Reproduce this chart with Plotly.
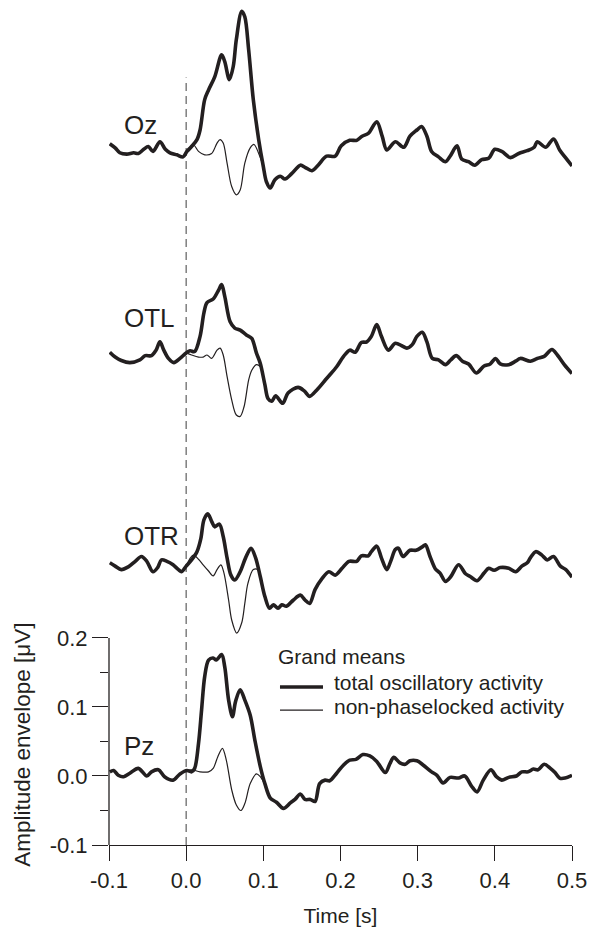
import plotly.graph_objects as go

# ---------------- data (values relative to each channel's own baseline, in µV) ----------------
channels = ["Oz", "OTL", "OTR", "Pz"]
offsets = {"Oz": 0.9, "OTL": 0.6, "OTR": 0.3, "Pz": 0.0}

oz_t = [-0.099, -0.092, -0.086, -0.077, -0.068, -0.062, -0.055, -0.049, -0.043, -0.034, -0.027, -0.021,
        -0.012, -0.004, 0.001, 0.007, 0.014, 0.018, 0.024, 0.029, 0.037, 0.046, 0.050, 0.056, 0.061,
        0.065, 0.072, 0.076, 0.081, 0.087, 0.094, 0.100, 0.104, 0.109, 0.115, 0.122, 0.128, 0.137,
        0.148, 0.154, 0.163, 0.171, 0.182, 0.193, 0.201, 0.212, 0.221, 0.228, 0.236, 0.247, 0.254,
        0.260, 0.271, 0.282, 0.290, 0.299, 0.305, 0.312, 0.318, 0.327, 0.336, 0.342, 0.351, 0.357,
        0.366, 0.374, 0.383, 0.392, 0.400, 0.409, 0.420, 0.431, 0.442, 0.451, 0.455, 0.466, 0.476,
        0.484, 0.490, 0.500]
oz_total = [0.016, 0.010, 0.003, 0.001, 0.003, 0.002, 0.008, 0.012, 0.005, 0.019, 0.008, 0.003,
            0.000, -0.003, 0.005, 0.012, 0.022, 0.036, 0.080, 0.094, 0.113, 0.145, 0.135, 0.109, 0.128,
            0.167, 0.208, 0.200, 0.152, 0.080, 0.022, -0.017, -0.039, -0.048, -0.036, -0.031, -0.035,
            -0.027, -0.015, -0.018, -0.023, -0.015, -0.002, -0.002, 0.013, 0.021, 0.021, 0.027, 0.031,
            0.048, 0.027, 0.007, 0.019, 0.011, 0.027, 0.036, 0.041, 0.027, 0.005, -0.003, -0.010,
            -0.002, 0.013, -0.006, -0.010, -0.015, -0.007, -0.005, 0.008, 0.005, -0.004, 0.002, 0.006,
            0.011, 0.019, 0.011, 0.023, 0.007, -0.002, -0.016]
oz_thin_t = [0.001, 0.009, 0.016, 0.024, 0.033, 0.040, 0.044, 0.048, 0.053, 0.059, 0.065, 0.070,
             0.076, 0.083, 0.088, 0.094, 0.100]
oz_thin = [0.005, 0.015, 0.005, 0.000, 0.002, 0.017, 0.022, 0.017, -0.012, -0.046, -0.058, -0.051,
           -0.012, 0.010, 0.015, 0.002, -0.017]

otl_t = [-0.099, -0.092, -0.084, -0.073, -0.060, -0.053, -0.045, -0.039, -0.034, -0.029, -0.023,
         -0.016, -0.008, 0.000, 0.005, 0.011, 0.018, 0.023, 0.027, 0.035, 0.042, 0.046, 0.050, 0.057,
         0.063, 0.070, 0.078, 0.085, 0.091, 0.096, 0.102, 0.106, 0.111, 0.116, 0.125, 0.132, 0.145,
         0.153, 0.160, 0.169, 0.182, 0.186, 0.195, 0.204, 0.212, 0.219, 0.227, 0.234, 0.240, 0.247,
         0.253, 0.262, 0.271, 0.280, 0.286, 0.293, 0.299, 0.306, 0.312, 0.319, 0.327, 0.336, 0.343,
         0.350, 0.358, 0.366, 0.376, 0.386, 0.394, 0.401, 0.407, 0.418, 0.427, 0.433, 0.446, 0.455,
         0.464, 0.474, 0.481, 0.490, 0.500]
otl_total = [0.014, 0.007, 0.002, -0.001, 0.003, 0.009, 0.009, 0.017, 0.029, 0.017, 0.005, -0.001,
             0.005, 0.013, 0.016, 0.015, 0.037, 0.071, 0.086, 0.091, 0.104, 0.112, 0.095, 0.058, 0.049,
             0.046, 0.039, 0.034, 0.013, -0.002, -0.033, -0.053, -0.057, -0.049, -0.060, -0.045,
             -0.037, -0.042, -0.050, -0.041, -0.024, -0.019, -0.007, 0.008, 0.017, 0.014, 0.028, 0.029,
             0.037, 0.054, 0.037, 0.017, 0.027, 0.023, 0.020, 0.025, 0.037, 0.043, 0.029, 0.005, 0.003,
             -0.004, 0.003, 0.009, 0.001, -0.003, -0.016, -0.006, -0.003, 0.005, -0.003, -0.004, 0.001,
             0.005, 0.001, 0.005, 0.008, 0.018, 0.010, -0.004, -0.017]
otl_thin_t = [0.000, 0.007, 0.016, 0.022, 0.027, 0.033, 0.040, 0.044, 0.048, 0.053, 0.059, 0.065,
              0.070, 0.075, 0.081, 0.085, 0.091, 0.096, 0.099]
otl_thin = [0.013, 0.010, 0.007, 0.007, 0.010, 0.005, 0.017, 0.020, 0.010, -0.021, -0.055, -0.077,
            -0.079, -0.065, -0.026, -0.012, -0.004, -0.007, -0.015]

otr_t = [-0.099, -0.092, -0.084, -0.075, -0.066, -0.058, -0.051, -0.043, -0.037, -0.032, -0.025,
         -0.017, -0.010, -0.006, 0.000, 0.007, 0.014, 0.019, 0.023, 0.028, 0.033, 0.037, 0.043, 0.048,
         0.053, 0.058, 0.063, 0.070, 0.077, 0.084, 0.090, 0.096, 0.102, 0.108, 0.113, 0.119, 0.124,
         0.130, 0.139, 0.148, 0.154, 0.160, 0.167, 0.176, 0.185, 0.193, 0.202, 0.211, 0.221, 0.227,
         0.236, 0.240, 0.247, 0.253, 0.260, 0.265, 0.271, 0.275, 0.281, 0.290, 0.298, 0.306, 0.310,
         0.316, 0.323, 0.329, 0.336, 0.343, 0.353, 0.362, 0.368, 0.377, 0.386, 0.392, 0.399, 0.407,
         0.418, 0.427, 0.435, 0.442, 0.446, 0.453, 0.461, 0.468, 0.476, 0.485, 0.492, 0.500]
otr_total = [0.009, 0.004, -0.001, 0.003, 0.011, 0.018, 0.011, -0.004, 0.002, 0.013, 0.011, 0.006,
             -0.001, -0.004, 0.004, 0.013, 0.025, 0.044, 0.071, 0.080, 0.069, 0.061, 0.065, 0.047,
             0.016, -0.009, -0.016, -0.004, 0.016, 0.030, 0.016, -0.011, -0.040, -0.057, -0.052,
             -0.057, -0.052, -0.054, -0.045, -0.038, -0.045, -0.050, -0.030, -0.014, -0.004, -0.009,
             0.001, 0.011, 0.011, 0.019, 0.019, 0.025, 0.033, 0.016, -0.001, 0.011, 0.028, 0.030,
             0.018, 0.027, 0.027, 0.032, 0.035, 0.018, 0.000, -0.006, -0.018, -0.011, 0.006, -0.007,
             -0.011, -0.017, -0.006, 0.001, -0.002, 0.002, 0.001, -0.004, 0.004, 0.009, 0.016, 0.025,
             0.020, 0.013, 0.018, 0.004, -0.001, -0.012]
otr_thin_t = [0.000, 0.009, 0.016, 0.022, 0.029, 0.035, 0.040, 0.045, 0.049, 0.055, 0.059, 0.0655,
              0.072, 0.076, 0.080, 0.087, 0.093, 0.098]
otr_thin = [0.004, 0.020, 0.014, 0.006, -0.003, -0.010, -0.001, 0.006, -0.006, -0.045, -0.074, -0.093,
            -0.078, -0.050, -0.021, -0.001, -0.001, -0.020]

pz_t = [-0.099, -0.094, -0.088, -0.081, -0.073, -0.062, -0.051, -0.045, -0.036, -0.028, -0.017,
        -0.008, 0.001, 0.007, 0.011, 0.016, 0.020, 0.024, 0.029, 0.035, 0.039, 0.046, 0.050, 0.055,
        0.060, 0.064, 0.070, 0.076, 0.083, 0.089, 0.096, 0.102, 0.109, 0.117, 0.126, 0.135, 0.141,
        0.148, 0.154, 0.161, 0.167, 0.173, 0.180, 0.186, 0.195, 0.204, 0.212, 0.220, 0.229, 0.238,
        0.247, 0.258, 0.264, 0.269, 0.277, 0.284, 0.290, 0.299, 0.307, 0.318, 0.325, 0.333, 0.342,
        0.353, 0.361, 0.370, 0.377, 0.385, 0.395, 0.402, 0.409, 0.418, 0.428, 0.435, 0.443, 0.450,
        0.456, 0.464, 0.472, 0.478, 0.484, 0.491, 0.500]
pz_total = [0.006, 0.008, 0.001, -0.001, 0.004, 0.011, 0.000, 0.006, 0.009, -0.001, -0.006, 0.003,
            0.008, 0.006, 0.011, 0.047, 0.096, 0.144, 0.168, 0.171, 0.168, 0.176, 0.158, 0.110, 0.086,
            0.108, 0.125, 0.110, 0.088, 0.052, 0.014, -0.011, -0.032, -0.038, -0.047, -0.039, -0.034,
            -0.026, -0.034, -0.034, -0.037, -0.011, -0.006, -0.007, 0.004, 0.016, 0.023, 0.024, 0.031,
            0.029, 0.021, 0.005, 0.018, 0.027, 0.019, 0.017, 0.022, 0.022, 0.016, 0.006, 0.001, -0.010,
            -0.002, -0.003, 0.000, -0.015, -0.023, -0.006, 0.009, -0.001, -0.006, -0.002, 0.000, 0.006,
            0.006, 0.010, 0.009, 0.017, 0.011, 0.005, -0.003, -0.003, 0.001]
pz_thin_t = [0.001, 0.007, 0.018, 0.029, 0.035, 0.041, 0.047, 0.052, 0.059, 0.065, 0.071, 0.076,
             0.083, 0.091, 0.096, 0.101]
pz_thin = [0.008, 0.009, 0.006, 0.006, 0.011, 0.028, 0.040, 0.023, -0.020, -0.042, -0.050, -0.040,
           -0.011, 0.003, -0.001, -0.010]

total_series = {"Oz": (oz_t, oz_total), "OTL": (otl_t, otl_total),
                "OTR": (otr_t, otr_total), "Pz": (pz_t, pz_total)}
thin_series = {"Oz": (oz_thin_t, oz_thin), "OTL": (otl_thin_t, otl_thin),
               "OTR": (otr_thin_t, otr_thin), "Pz": (pz_thin_t, pz_thin)}

x_ticks = [-0.1, 0.0, 0.1, 0.2, 0.3, 0.4, 0.5]
x_ticktext = [f"{v:.1f}" for v in x_ticks]
y_ticks = [-0.1, 0.0, 0.1, 0.2]
y_ticktext = [f"{v:.1f}" for v in y_ticks]
y_minor = [-0.05, 0.05, 0.15]
label_rel = {"Oz": 0.043, "OTL": 0.064, "OTR": 0.048, "Pz": 0.043}

legend_title = "Grand means"
legend_names = ["total oscillatory activity", "non-phaselocked activity"]
THICK_W, THIN_W = 3.6, 1.2

# ---------------- figure ----------------
INK = "#231f20"
FONT = "Liberation Sans, Arial, Helvetica, sans-serif"

fig = go.Figure()

for i, ch in enumerate(channels):
    t, v = thin_series[ch]
    fig.add_trace(go.Scatter(
        x=t, y=[val + offsets[ch] for val in v], mode="lines",
        line=dict(color=INK, width=THIN_W, shape="spline", smoothing=0.9),
        name=legend_names[1], showlegend=False, hoverinfo="skip"))

for i, ch in enumerate(channels):
    t, v = total_series[ch]
    fig.add_trace(go.Scatter(
        x=t, y=[val + offsets[ch] for val in v], mode="lines",
        line=dict(color=INK, width=THICK_W, shape="spline", smoothing=0.9),
        name=legend_names[0], showlegend=False, hoverinfo="skip"))

# channel labels
for ch in channels:
    fig.add_annotation(x=-0.083, y=offsets[ch] + label_rel[ch], xref="x", yref="y",
                       text=ch, showarrow=False, xanchor="left", yanchor="middle",
                       font=dict(size=26, color=INK, family=FONT))

# dashed stimulus line
fig.add_shape(type="line", xref="x", yref="y", x0=0, x1=0, y0=-0.1, y1=1.012,
              line=dict(color="#6b6b6b", width=1.3, dash="8px,5px"), layer="below")

# partial y axis line (only the Pz scale)
fig.add_shape(type="line", xref="paper", yref="y", x0=0, x1=0, y0=-0.1, y1=0.2,
              line=dict(color=INK, width=1.3))

# y axis title
fig.add_annotation(x=-0.186, y=0.045, xref="paper", yref="y", text="Amplitude envelope [μV]",
                   textangle=-90, showarrow=False, xanchor="center", yanchor="middle",
                   font=dict(size=22.5, color=INK, family=FONT))

# legend (drawn as text + line samples for compact row spacing)
LEG_FONT = dict(size=21, color=INK, family=FONT)
fig.add_annotation(x=0.361, y=0.2233, xref="paper", yref="paper", text=legend_title,
                   showarrow=False, xanchor="left", yanchor="middle", font=LEG_FONT)
for name, w, ty, tt in [(legend_names[0], THICK_W, 0.1876, 0.1924),
                        (legend_names[1], THIN_W, 0.1603, 0.1639)]:
    fig.add_shape(type="line", xref="paper", yref="paper", x0=0.3693, x1=0.4622, y0=ty, y1=ty,
                  line=dict(color=INK, width=w))
    fig.add_annotation(x=0.482, y=tt, xref="paper", yref="paper", text=name,
                       showarrow=False, xanchor="left", yanchor="middle", font=LEG_FONT)

fig.update_layout(
    width=589, height=931,
    margin=dict(l=109, r=17, t=3, b=86),
    paper_bgcolor="white", plot_bgcolor="white",
    font=dict(family=FONT, size=22, color=INK),
    showlegend=False,
    xaxis=dict(range=[-0.1, 0.5], tickvals=x_ticks, ticktext=x_ticktext,
               showline=True, linecolor=INK, linewidth=1.3, mirror=False,
               ticks="outside", ticklen=15, tickwidth=1.3, tickcolor=INK,
               showgrid=False, zeroline=False,
               title=dict(text="Time [s]", font=dict(size=21, color=INK), standoff=16),
               tickfont=dict(size=22, color=INK)),
    yaxis=dict(range=[-0.1, 1.12], tickvals=y_ticks, ticktext=y_ticktext,
               showline=False, ticks="outside", ticklen=16, tickwidth=1.3, tickcolor=INK,
               minor=dict(tickvals=y_minor, ticks="outside", ticklen=8, tickwidth=1.3,
                          tickcolor=INK),
               showgrid=False, zeroline=False, tickfont=dict(size=22, color=INK)),
)

fig.write_html("out.html")
